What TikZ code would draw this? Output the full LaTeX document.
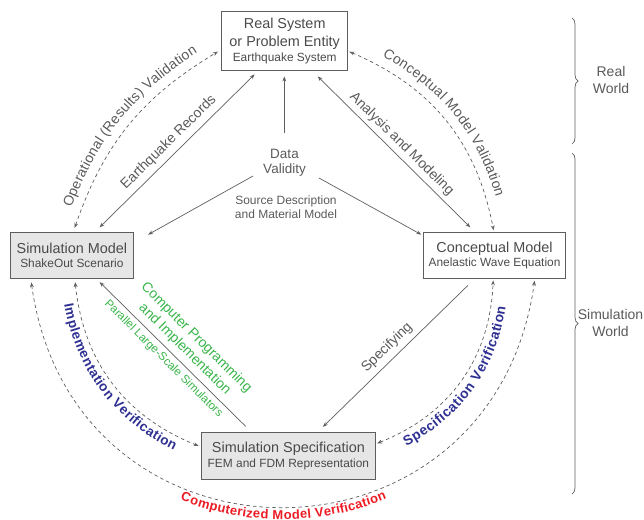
\documentclass[tikz,border=0pt]{standalone}
\usepackage{fontspec}
\setmainfont{Liberation Sans}
\usetikzlibrary{arrows.meta,calc,decorations.text,decorations.pathreplacing}
\definecolor{txt}{HTML}{4A4A4A}
\definecolor{lbl}{HTML}{5A5A5A}
\definecolor{ln}{HTML}{5E5E5E}
\definecolor{boxfill}{HTML}{E6E6E6}
\definecolor{grn}{HTML}{39B54A}
\definecolor{blu}{HTML}{2E3192}
\definecolor{rd}{HTML}{ED1C24}
\begin{document}
\begin{tikzpicture}[x=1pt,y=1pt,
  >={Stealth[length=5pt,width=3.8pt]},
  box/.style={draw=ln, line width=0.8pt, inner sep=0pt, align=center, text=txt, font=\fontsize{14.4}{17.4}\selectfont},
  conn/.style={draw=ln, line width=0.7pt},
  dsh/.style={conn, dash pattern=on 3.5pt off 3pt},
  lab/.style={text=lbl, inner sep=0pt, font=\fontsize{14}{16}\selectfont},
  arctext/.style={decorate, decoration={text along path, text align=center, raise=#1}},
]
\useasboundingbox (0,0) rectangle (644,-519);

% boxes
\node[box, minimum width=126pt, minimum height=59pt] (RS) at (284.7,-41.2)
  {Real System\\or Problem Entity\\[-2.1pt]{\fontsize{11.9}{14}\selectfont Earthquake System}};
\node[box, fill=boxfill, minimum width=123.7pt, minimum height=46pt] (SM) at (71.9,-255.3)
  {Simulation Model\\[-3pt]{\fontsize{11.9}{14}\selectfont ShakeOut Scenario}};
\node[box, minimum width=142.4pt, minimum height=46pt] (CM) at (494.5,-255.3)
  {Conceptual Model\\[-3pt]{\fontsize{11.9}{14}\selectfont Anelastic Wave Equation}};
\node[box, fill=boxfill, minimum width=174.7pt, minimum height=46.3pt] (SS) at (288.4,-455.8)
  {Simulation Specification\\[-2.8pt]{\fontsize{11.9}{14}\selectfont FEM and FDM Representation}};

% centre texts
\node[lab, align=center, font=\fontsize{13.5}{15}\selectfont] (DV) at (284.5,-162.3) {Data\\Validity};
\node[lab, align=center, font=\fontsize{12}{13.5}\selectfont] (SD) at (286,-207.4) {Source Description\\and Material Model};

% straight connectors
\draw[conn,->] ($(DV.center)+(-0.2,29)$) -- ($(RS.south)+(-0.4,-5.3)$);
\draw[conn,->] ($(DV.center)+(-31.5,-13.7)$) -- ($(SM.north east)+(14,-2.7)$);
\draw[conn,->] ($(DV.center)+(34.5,-15.7)$) -- ($(CM.north west)+(-1.6,-2.7)$);
\draw[conn,<->] ($(RS.south west)+(33.3,-3.3)$) -- node[lab, sloped, above=5pt] {Earthquake Records} ($(SM.north west)+(90,4.6)$);
\draw[conn,<->] ($(RS.south east)+(-30.4,-5.3)$) -- node[lab, sloped, above=4pt] {Analysis and Modeling} ($(CM.north west)+(47.4,4.6)$);
\draw[conn,->] ($(CM.south west)+(45,-6.7)$) -- node[lab, sloped, above=5pt] {Specifying} ($(SS.north west)+(122.3,5.4)$);
\draw[conn,->] ($(SS.north west)+(45,5.9)$) --
  node[lab, sloped, pos=0.475, above=5pt, text=grn, align=center, font=\fontsize{14}{16.5}\selectfont] {Computer Programming\\and Implementation}
  node[lab, sloped, pos=0.516, below=4pt, text=grn, font=\fontsize{11.5}{13}\selectfont] {Parallel Large-Scale Simulators}
  ($(SM.south west)+(90,-3.4)$);

% arc end points
\coordinate (opA) at ($(SM.north west)+(65,4)$);
\coordinate (opB) at ($(RS.west)+(-3.4,-10.5)$);
\coordinate (cvA) at ($(RS.east)+(1.3,-10.5)$);
\coordinate (cvB) at ($(CM.north west)+(70.7,1.6)$);
\coordinate (ivA) at ($(SM.south west)+(65.5,-3.4)$);
\coordinate (ivB) at ($(SS.west)+(-2,9.8)$);
\coordinate (svA) at ($(SS.east)+(1,12.5)$);
\coordinate (svB) at ($(CM.south west)+(70.3,-1.7)$);
\coordinate (cmA) at ($(SM.south west)+(21.6,-3.7)$);
\coordinate (cmB) at ($(CM.south west)+(111.7,-2)$);

% dashed arcs
\draw[dsh,<->] (opA) to[bend left=20] (opB);
\draw[dsh,<->] (cvA) to[bend left=28] (cvB);
\draw[dsh,<->] (ivA) to[bend right=31] (ivB);
\draw[dsh,<->] (svA) to[bend right=33] (svB);
\draw[dsh,<->] (cmA) to[out=-82,in=-98,looseness=1.54] (cmB);

% arc labels
\path[arctext=10pt, decoration={text color=lbl, text={|\fontsize{14}{16}\selectfont|Operational (Results) Validation}}] (opA) to[bend left=20] (opB);
\path[arctext=10pt, decoration={text color=lbl, text={|\fontsize{14}{16}\selectfont|Conceptual Model Validation}}] (cvA) to[bend left=28] (cvB);
\path[arctext=-14pt, decoration={text color=blu, text={|\bfseries\fontsize{13.5}{16}\selectfont|Implementation Verification}}] (ivA) to[bend right=31] (ivB);
\path[arctext=-15pt, decoration={text color=blu, text={|\bfseries\fontsize{13.8}{16}\selectfont|Specification Verification}}] (svA) to[bend right=33] (svB);
\path[arctext=-12.5pt, decoration={text color=rd, text={|\bfseries\fontsize{13}{15}\selectfont|Computerized Model Verification}}] (cmA) to[out=-82,in=-98,looseness=1.54] (cmB);

% braces
\draw[ln, line width=0.7pt, decorate, decoration={brace, amplitude=6pt}] (572,-18) -- (572,-144);
\draw[ln, line width=0.7pt, decorate, decoration={brace, amplitude=6pt}] (572,-153) -- (572,-494);
\node[lab, align=center, font=\fontsize{14}{17.3}\selectfont] (RW) at (611,-80.2) {Real\\World};
\node[lab, align=center, font=\fontsize{14}{16.7}\selectfont] (SW) at (610.5,-323.2) {Simulation\\World};
\end{tikzpicture}
\end{document}
